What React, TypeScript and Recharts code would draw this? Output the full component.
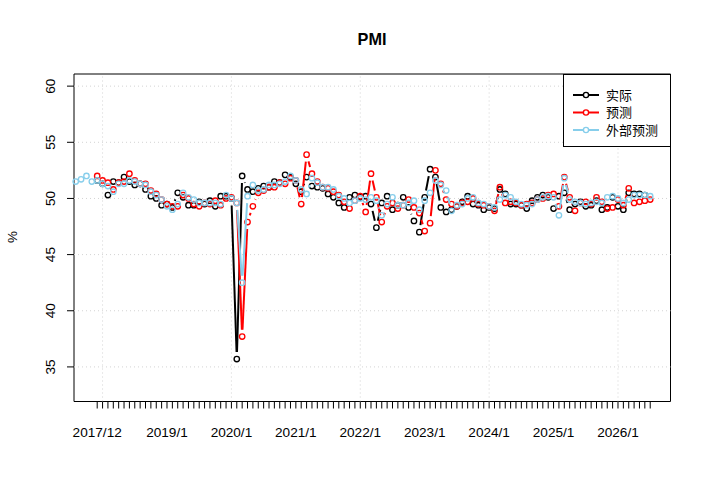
import { LineChart, Line, XAxis, YAxis, ReferenceLine, ReferenceArea } from 'recharts'

// month index: 0 = 2017/12
const ACTUAL_START = 0
const FORECAST_START = 0
const EXTERNAL_START = -4

const actual = [
  51.6,
  51.3, 50.3, 51.5, 51.4, 51.9, 51.5, 51.2, 51.3, 50.8, 50.2, 50.0, 49.4,
  49.5, 49.2, 50.5, 50.1, 49.4, 49.4, 49.7, 49.5, 49.8, 49.3, 50.2, 50.2,
  50.0, 35.7, 52.0, 50.8, 50.6, 50.9, 51.1, 51.0, 51.5, 51.4, 52.1, 51.9,
  51.3, 50.6, 51.9, 51.1, 51.0, 50.9, 50.4, 50.1, 49.6, 49.2, 50.1, 50.3,
  50.1, 50.2, 49.5, 47.4, 49.6, 50.2, 49.0, 49.4, 50.1, 49.2, 48.0, 47.0,
  50.1, 52.6, 51.9, 49.2, 48.8, 49.0, 49.3, 49.7, 50.2, 49.5, 49.4, 49.0,
  49.2, 49.1, 50.8, 50.4, 49.5, 49.5, 49.4, 49.1, 49.8, 50.1, 50.3, 50.1,
  49.1, 50.2, 50.5, 49.0, 49.5, 49.7, 49.3, 49.4, 49.8, 49.0, 49.2, 50.1,
  49.3, 49.0, 50.5, 50.4, 50.4, 50.3,
]

const forecast = [
  52.0, 51.6, 51.4, 50.8, 51.4, 51.5, 52.2, 51.6, 51.3, 51.3, 50.7, 50.4,
  49.9, 49.5, 49.3, 49.3, 50.3, 50.0, 49.5, 49.3, 49.6, 49.5, 49.8, 49.4,
  50.0, 50.1, 49.6, 37.7, 47.9, 49.3, 50.5, 50.7, 51.0, 51.0, 51.4, 51.3,
  51.8, 51.6, 49.5, 53.9, 52.2, 51.5, 51.0, 50.9, 50.6, 50.3, 49.7, 49.1,
  49.8, 50.2, 48.8, 52.2, 50.1, 47.9, 49.3, 49.6, 49.1, 49.4, 49.9, 49.2,
  48.7, 47.1, 47.8, 52.5, 51.3, 49.9, 49.5, 49.3, 49.6, 49.7, 50.0, 49.5,
  49.4, 49.3, 48.9, 51.0, 49.6, 49.7, 49.6, 49.4, 49.5, 49.6, 49.9, 50.0,
  50.3, 50.4, 49.3, 51.9, 50.1, 48.9, 49.6, 49.7, 49.5, 50.1, 49.7, 49.1,
  49.2, 49.9, 49.4, 50.9, 49.6, 49.7, 49.8, 49.9,
]

const external = [
  51.5, 51.7, 52.0, 51.5,
  51.6, 51.3, 51.1, 50.6, 51.3, 51.3, 51.6, 51.5, 51.3, 51.2, 50.6, 50.3,
  49.9, 49.3, 49.0, 49.5, 50.5, 50.1, 49.9, 49.6, 49.6, 49.6, 49.6, 49.5,
  50.3, 50.0, 49.6, 42.5, 50.2, 51.2, 50.7, 50.8, 51.2, 51.2, 51.3, 51.5,
  52.0, 51.6, 50.8, 50.4, 51.8, 51.4, 51.0, 51.0, 50.8, 50.2, 50.0, 49.6,
  49.8, 50.0, 49.9, 50.1, 49.8, 48.5, 49.5, 50.1, 49.4, 49.4, 49.6, 49.8,
  49.0, 49.8, 50.5, 51.6, 51.2, 50.7, 48.9, 49.4, 49.5, 50.0, 50.1, 49.6,
  49.5, 49.3, 49.2, 49.9, 50.3, 50.1, 49.7, 49.5, 49.4, 49.5, 49.9, 50.1,
  50.2, 50.1, 48.5, 51.8, 49.9, 49.7, 49.6, 49.5, 49.6, 49.7, 49.6, 50.1,
  50.2, 50.0, 49.6, 49.9, 50.3, 50.3, 50.3, 50.2,
]

const xLabelMonths = [0, 13, 25, 37, 49, 61, 73, 85, 97]
const xLabels = ['2017/12', '2019/1', '2020/1', '2021/1', '2022/1', '2023/1', '2024/1', '2025/1', '2026/1']
const xGridMonths = [1, 25, 49, 73, 97]
const yTicks = [35, 40, 45, 50, 55, 60]

const X_DOMAIN: [number, number] = [-4.32, 106.78]
const Y_DOMAIN: [number, number] = [31.92, 61.08]

const SERIES = [
  { key: 'actual', name: '实际', color: '#000000' },
  { key: 'forecast', name: '预测', color: '#FF0000' },
  { key: 'external', name: '外部预测', color: '#87CEEB' },
]

const LAT = "'Liberation Sans', Arial, sans-serif"
const CJK = "'Noto Sans CJK SC', 'Liberation Sans', sans-serif"

const firstMonth = Math.min(ACTUAL_START, FORECAST_START, EXTERNAL_START)
const lastMonth = Math.max(
  ACTUAL_START + actual.length, FORECAST_START + forecast.length, EXTERNAL_START + external.length,
) - 1
const tickMonths = Array.from({ length: lastMonth + 1 }, (_, i) => i)

const pick = (arr: number[], start: number, m: number) => {
  const v = arr[m - start]
  return v === undefined ? null : v
}

const data = Array.from({ length: lastMonth - firstMonth + 1 }, (_, i) => {
  const m = firstMonth + i
  return {
    m,
    actual: pick(actual, ACTUAL_START, m),
    forecast: pick(forecast, FORECAST_START, m),
    external: pick(external, EXTERNAL_START, m),
  }
})

// R type = "b": hollow circles, segments stop short of each point
const GAP = 7
const prevPt: Record<string, { x: number; y: number; i: number } | null> = {}

function makeDot(id: string, color: string) {
  return (props: any) => {
    const { cx, cy, index, value } = props
    const k = `${id}-${index}`
    const last = prevPt[id]
    if (last && index <= last.i) prevPt[id] = null
    if (value == null || cx == null || cy == null || Number.isNaN(cy)) {
      prevPt[id] = null
      return <g key={k} />
    }
    const prev = prevPt[id]
    prevPt[id] = { x: cx, y: cy, i: index }
    let seg = null
    if (prev) {
      const dx = cx - prev.x
      const dy = cy - prev.y
      const d = Math.hypot(dx, dy)
      if (d > 2 * GAP) {
        const ux = dx / d
        const uy = dy / d
        seg = (
          <line
            x1={prev.x + ux * GAP} y1={prev.y + uy * GAP}
            x2={cx - ux * GAP} y2={cy - uy * GAP}
            stroke={color} strokeWidth={2}
          />
        )
      }
    }
    return (
      <g key={k}>
        {seg}
        <circle cx={cx} cy={cy} r={2.7} fill="none" stroke={color} strokeWidth={1.35} />
      </g>
    )
  }
}

const XTick = (props: any) => {
  const { x, payload } = props
  const idx = xLabelMonths.indexOf(payload.value)
  if (idx < 0) return <g />
  return (
    <text x={x} y={437} textAnchor="middle" fontSize={13.6} fontFamily={LAT} fill="#000">
      {xLabels[idx]}
    </text>
  )
}

const YTick = (props: any) => {
  const { y, payload } = props
  return (
    <text
      transform={`translate(55,${y}) rotate(-90)`}
      textAnchor="middle" fontSize={13.6} fontFamily={LAT} fill="#000"
    >
      {payload.value}
    </text>
  )
}

export default function App() {
  return (
    <div style={{ position: 'absolute', left: 0, top: 0, width: 710, height: 495, background: '#fff' }}>
      <LineChart width={710} height={495} data={data} margin={{ top: 74, right: 39.5, bottom: 0, left: 0 }}>
        <XAxis
          dataKey="m" type="number" domain={X_DOMAIN} ticks={tickMonths} interval={0}
          tickSize={7} tickLine={{ stroke: '#000' }} axisLine={false} tick={<XTick />} height={93.5}
        />
        <YAxis
          type="number" domain={Y_DOMAIN} ticks={yTicks} interval={0}
          tickSize={7} tickLine={{ stroke: '#000' }} axisLine={false} tick={<YTick />} width={74}
        />
        {xGridMonths.map(m => (
          <ReferenceLine key={`gx${m}`} x={m} stroke="#D3D3D3" strokeDasharray="1 3" />
        ))}
        {yTicks.map(v => (
          <ReferenceLine key={`gy${v}`} y={v} stroke="#D3D3D3" strokeDasharray="1 3" />
        ))}
        {SERIES.map(s => (
          <Line
            key={s.key} dataKey={s.key} name={s.name} stroke="none"
            dot={makeDot(s.key, s.color)} activeDot={false} isAnimationActive={false}
          />
        ))}
        <ReferenceArea
          x1={X_DOMAIN[0]} x2={X_DOMAIN[1]} y1={Y_DOMAIN[0]} y2={Y_DOMAIN[1]}
          fill="none" stroke="#000" strokeWidth={1} ifOverflow="visible"
        />
      </LineChart>
      <svg width={710} height={495} style={{ position: 'absolute', left: 0, top: 0, pointerEvents: 'none' }}>
        <text x={372} y={45} textAnchor="middle" fontSize={16.3} fontWeight="bold" fontFamily={LAT}>PMI</text>
        <text transform="translate(17,237) rotate(-90)" textAnchor="middle" fontSize={13.6} fontFamily={LAT}>%</text>
        <rect x={563.5} y={74.5} width={107} height={72} fill="#fff" stroke="#000" strokeWidth={1} />
        {SERIES.map((s, i) => {
          const y = 95 + i * 17.5
          return (
            <g key={s.key}>
              <line x1={573} y1={y} x2={599} y2={y} stroke={s.color} strokeWidth={2} />
              <circle cx={586} cy={y} r={2.6} fill="#fff" stroke={s.color} strokeWidth={1.4} />
              <text x={606} y={y + 4.5} fontSize={13} fontFamily={CJK}>{s.name}</text>
            </g>
          )
        })}
      </svg>
    </div>
  )
}
